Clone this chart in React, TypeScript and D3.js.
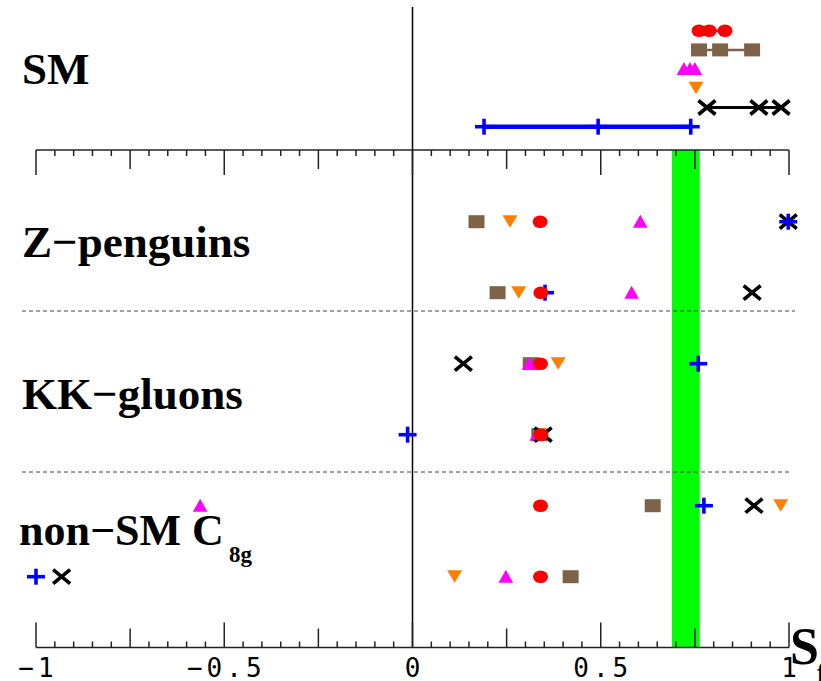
import React from "react";
import * as d3 from "d3";

// ---- data ----
const smRed = [0.761, 0.788, 0.83];
const smBrown = [0.761, 0.817, 0.902];
const smMagenta = [0.721, 0.737, 0.75];
const smOrange = [0.753];
const smBlack = [0.782, 0.92, 0.979];
const smBlue = [0.19, 0.493, 0.739];

const scenarioRows = ["Z-penguins a", "Z-penguins b", "KK-gluons a", "KK-gluons b", "non-SM C8g a", "non-SM C8g b"];
const redVals = [0.339, 0.341, 0.34, 0.341, 0.34, 0.34];
const brownVals = [0.17, 0.226, 0.314, 0.337, 0.638, 0.42];
const magentaVals = [0.605, 0.582, 0.31, 0.33, -0.564, 0.248];
const orangeVals = [0.259, 0.282, 0.387, 0.347, 0.978, 0.112];
const blackVals = [0.998, 0.902, 0.135, 0.347, 0.907, -0.932];
const blueVals = [0.998, 0.352, 0.759, -0.013, 0.774, -1.0];

const expBand = [0.689, 0.763];
const tickLabelValues = [-1, -0.5, 0, 0.5, 1];
const tickLabelTexts = ["−1", "−0.5", "0", "0.5", "1"];

const RED = "#ff0000";
const BROWN = "#7f6348";
const MAGENTA = "#ff00ff";
const ORANGE = "#ff8000";
const BLUE = "#0000ff";
const BLACK = "#000000";
const GREEN = "#00ff00";

type Kind = "circle" | "square" | "up" | "down" | "cross" | "plus";

function Marker({ kind, x, y }: { kind: Kind; x: number; y: number }) {
  switch (kind) {
    case "circle":
      return <ellipse cx={x} cy={y} rx={7.5} ry={6.3} fill={RED} />;
    case "square":
      return <rect x={x - 8} y={y - 6.5} width={16} height={13} fill={BROWN} />;
    case "up":
      return <polygon points={`${x},${y - 7} ${x + 7.3},${y + 6} ${x - 7.3},${y + 6}`} fill={MAGENTA} />;
    case "down":
      return <polygon points={`${x},${y + 6} ${x + 7.5},${y - 6.5} ${x - 7.5},${y - 6.5}`} fill={ORANGE} />;
    case "cross":
      return (
        <g stroke={BLACK} strokeWidth={3.6}>
          <line x1={x - 8.5} y1={y - 7} x2={x + 8.5} y2={y + 7} />
          <line x1={x - 8.5} y1={y + 7} x2={x + 8.5} y2={y - 7} />
        </g>
      );
    case "plus":
      return (
        <g stroke={BLUE} strokeWidth={3.6}>
          <line x1={x - 9} y1={y} x2={x + 9} y2={y} />
          <line x1={x} y1={y - 8} x2={x} y2={y + 8} />
        </g>
      );
  }
  return null;
}

export default function App() {
  const W = 821;
  const H = 681;
  const x = d3.scaleLinear().domain([-1, 1]).range([36, 789]);
  const yRow = d3.scaleLinear().domain([0, 5]).range([221.7, 576.7]);
  const ySm = d3.scaleLinear().domain([0, 5]).range([30.7, 126.7]);

  const topAxisY = 150;
  const botAxisY = 647.5;
  const ticks = d3.range(-20, 21).map((i) => i / 20);
  const tickLen = (v: number) => {
    const q = Math.round(v * 20);
    if (q % 10 === 0) return 25;
    if (q % 5 === 0) return 19;
    return 6;
  };

  const smSeries: { vals: number[]; kind: Kind; color: string; w: number; row: number }[] = [
    { vals: smRed, kind: "circle", color: RED, w: 2.5, row: 0 },
    { vals: smBrown, kind: "square", color: BROWN, w: 2.5, row: 1 },
    { vals: smMagenta, kind: "up", color: MAGENTA, w: 2, row: 2 },
    { vals: smOrange, kind: "down", color: ORANGE, w: 2, row: 3 },
    { vals: smBlack, kind: "cross", color: BLACK, w: 3.2, row: 4 },
    { vals: smBlue, kind: "plus", color: BLUE, w: 4.5, row: 5 },
  ];

  const rowSeries: { vals: number[]; kind: Kind }[] = [
    { vals: brownVals, kind: "square" },
    { vals: magentaVals, kind: "up" },
    { vals: orangeVals, kind: "down" },
    { vals: blackVals, kind: "cross" },
    { vals: blueVals, kind: "plus" },
    { vals: redVals, kind: "circle" },
  ];

  const labelFont = "'Liberation Serif', 'Times New Roman', serif";

  return (
    <svg width={W} height={H} style={{ position: "absolute", left: 0, top: 0, background: "#fff" }}>
      <rect x={0} y={0} width={W} height={H} fill="#fff" />
      {/* green experimental band */}
      <rect x={x(expBand[0])} y={topAxisY} width={x(expBand[1]) - x(expBand[0])} height={botAxisY - topAxisY} fill={GREEN} />

      {/* zero line */}
      <line x1={x(0)} x2={x(0)} y1={7} y2={botAxisY} stroke="#000" strokeWidth={1.5} />

      {/* dashed separators */}
      <line x1={22} x2={795} y1={311} y2={311} stroke="#444" strokeWidth={1} strokeDasharray="4,3" />
      <line x1={22} x2={790} y1={472} y2={472} stroke="#444" strokeWidth={1} strokeDasharray="4,3" />

      {/* top axis */}
      <line x1={x(-1)} x2={x(1)} y1={topAxisY} y2={topAxisY} stroke="#222" strokeWidth={1.6} />
      {ticks.map((t, i) => (
        <line key={"tt" + i} x1={x(t)} x2={x(t)} y1={topAxisY} y2={topAxisY + tickLen(t)} stroke="#222" strokeWidth={1.5} />
      ))}
      {/* bottom axis */}
      <line x1={x(-1)} x2={x(1)} y1={botAxisY} y2={botAxisY} stroke="#222" strokeWidth={1.6} />
      {ticks.map((t, i) => (
        <line key={"bt" + i} x1={x(t)} x2={x(t)} y1={botAxisY} y2={botAxisY - tickLen(t)} stroke="#222" strokeWidth={1.5} />
      ))}
      {tickLabelValues.map((v, i) => (
        <text
          key={"tl" + i}
          x={x(v) + 2}
          y={677}
          textAnchor="middle"
          fontFamily="'DejaVu Sans Mono', monospace"
          fontSize={26}
          letterSpacing={4}
          fill="#000"
        >
          {tickLabelTexts[i]}
        </text>
      ))}

      {/* SM rows */}
      {smSeries.map((s, si) => (
        <g key={"sm" + si}>
          {s.vals.length > 1 && (
            <line
              x1={x(d3.min(s.vals)!)}
              x2={x(d3.max(s.vals)!)}
              y1={ySm(s.row)}
              y2={ySm(s.row)}
              stroke={s.color}
              strokeWidth={s.w}
            />
          )}
          {s.vals.map((v, vi) => (
            <Marker key={vi} kind={s.kind} x={x(v)} y={ySm(s.row)} />
          ))}
        </g>
      ))}

      {/* scenario rows */}
      {rowSeries.map((s, si) => (
        <g key={"rs" + si}>
          {s.vals.map((v, ri) => (
            <Marker key={ri} kind={s.kind} x={x(v)} y={yRow(ri)} />
          ))}
        </g>
      ))}

      {/* labels */}
      <g fontFamily={labelFont} fontWeight="bold" fill="#000">
        <text x={22} y={84} fontSize={45}>SM</text>
        <text x={22} y={257} fontSize={45}>Z−penguins</text>
        <text x={22} y={409} fontSize={45}>KK−gluons</text>
        <text x={19} y={545} fontSize={44}>non−SM C</text>
        <text x={229} y={562} fontSize={23}>8g</text>
        <text x={790} y={664} fontSize={52}>S</text>
        <text x={817} y={682} fontSize={28}>f</text>
      </g>
    </svg>
  );
}
